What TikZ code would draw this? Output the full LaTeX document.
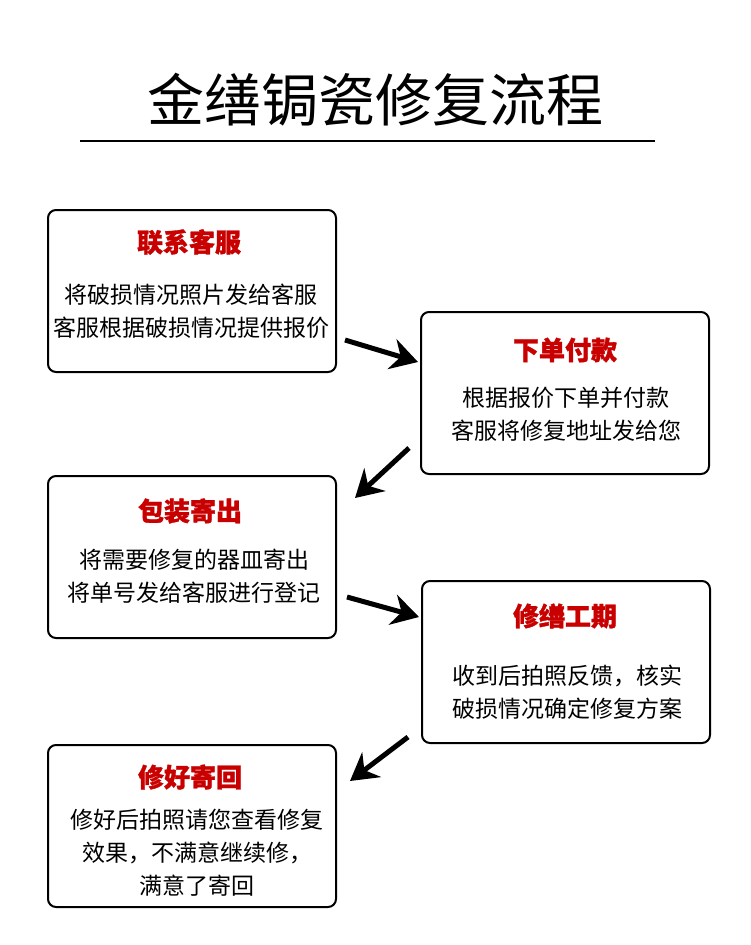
\documentclass[tikz,border=0pt]{standalone}
\usepackage{fontspec}
\newfontfamily\cjk{Noto Sans CJK SC}
\newfontfamily\cjkhead{Noto Sans CJK SC}[BoldFeatures={FakeBold=1.2}]
\usetikzlibrary{arrows.meta}
\definecolor{titlered}{RGB}{200,0,0}
\begin{document}
\begin{tikzpicture}[x=1pt,y=-1pt,
  box/.style={draw, line width=2pt, rounded corners=8pt, minimum width=288pt, minimum height=162pt, inner sep=0pt},
  head/.style={font=\cjkhead\bfseries\fontsize{26}{30}\selectfont, text=titlered, inner sep=0pt},
  body/.style={font=\cjk\fontsize{23}{33}\selectfont, align=center, inner sep=0pt},
  flow/.style={line width=5pt, -{Stealth[length=27pt,width=31pt,inset=9pt]}}]
\useasboundingbox[fill=white] (0,0) rectangle (750,945);
% title
\node[font=\cjk\fontsize{57}{60}\selectfont, inner sep=0pt] (title) at (375,100) {金缮锔瓷修复流程};
\coordinate (ruleL) at (80,141);
\coordinate (ruleR) at (655,141);
\draw[line width=1.3pt] (ruleL) -- (ruleR);
% boxes
\node[box] (b1) at (192,291) {};
\node[box] (b2) at (565,393) {};
\node[box] (b3) at (192,557) {};
\node[box] (b4) at (566,662) {};
\node[box] (b5) at (192,826) {};
% headings
\node[head] (h1) at (189,242) {联系客服};
\node[head] (h2) at (565,350) {下单付款};
\node[head] (h3) at (190,511) {包装寄出};
\node[head] (h4) at (565,616) {修缮工期};
\node[head] (h5) at (190,777) {修好寄回};
% bodies
\node[body] (t1) at (191,311) {将破损情况照片发给客服\\客服根据破损情况提供报价};
\node[body] (t2) at (566,414) {根据报价下单并付款\\客服将修复地址发给您};
\node[body] (t3) at (194,576) {将需要修复的器皿寄出\\将单号发给客服进行登记};
\node[body] (t4) at (567,692) {收到后拍照反馈，核实\\破损情况确定修复方案};
\node[body] (t5) at (197,853) {修好后拍照请您查看修复\\效果，不满意继续修，\\满意了寄回};
% arrows
\coordinate (a1s) at (345,340);
\coordinate (a1e) at (418,362);
\coordinate (a2s) at (409,448);
\coordinate (a2e) at (355,498);
\coordinate (a3s) at (347,597);
\coordinate (a3e) at (419,617);
\coordinate (a4s) at (408,737);
\coordinate (a4e) at (350,781);
\draw[flow] (a1s) -- (a1e);
\draw[flow] (a2s) -- (a2e);
\draw[flow] (a3s) -- (a3e);
\draw[flow] (a4s) -- (a4e);
\end{tikzpicture}
\end{document}
